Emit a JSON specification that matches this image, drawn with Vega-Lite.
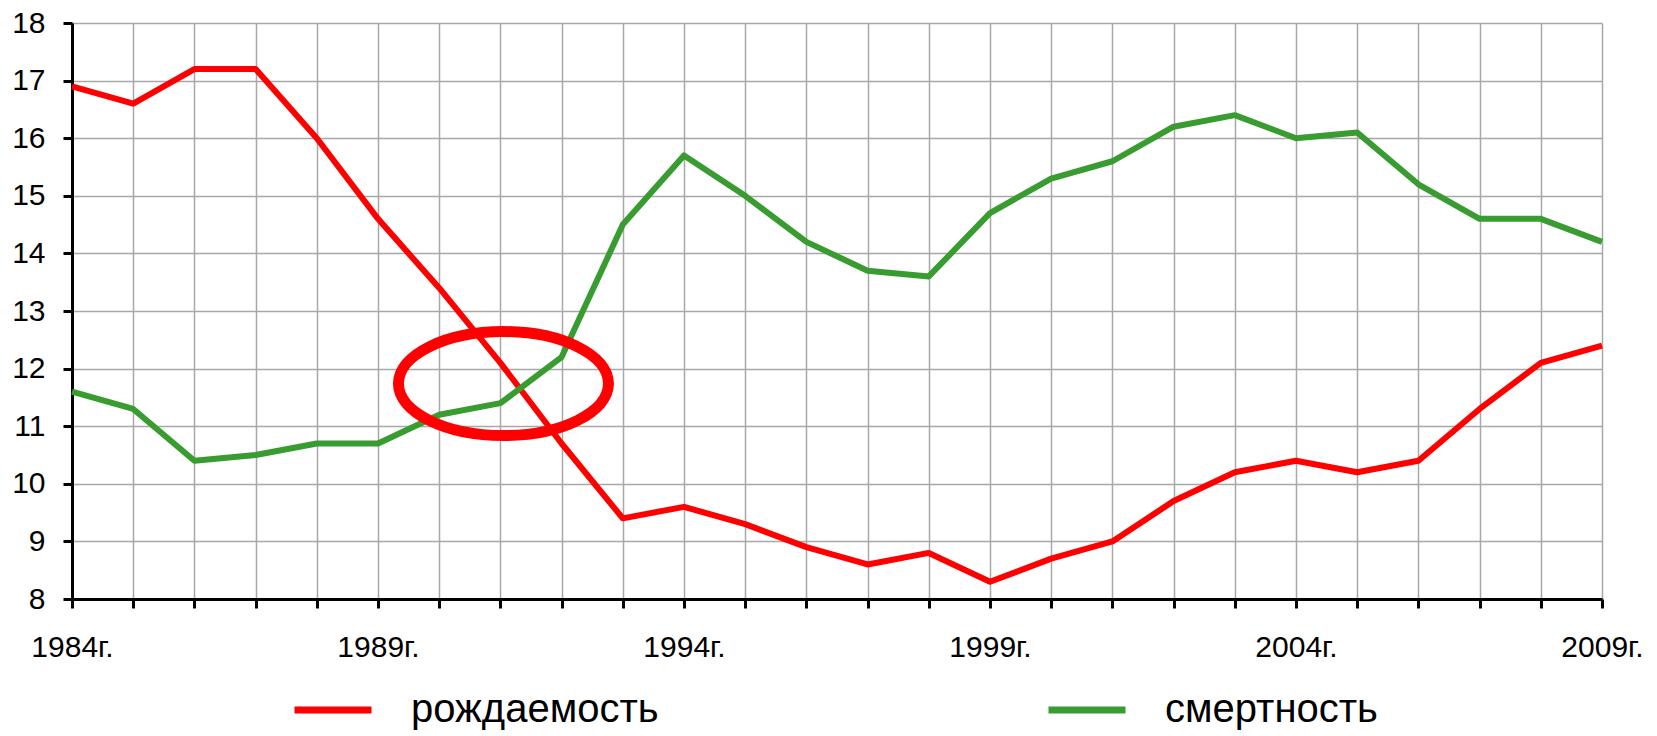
{
  "$schema": "https://vega.github.io/schema/vega-lite/v6.json",
  "width": 1530,
  "height": 576,
  "autosize": {"type": "none"},
  "padding": {"left": 72, "top": 23, "right": 55, "bottom": 137},
  "background": "white",
  "config": {
    "view": {"stroke": null},
    "axis": {
      "labelFont": "Liberation Sans",
      "labelFontSize": 30,
      "labelColor": "#000000",
      "domainColor": "#000000",
      "domainWidth": 3,
      "tickColor": "#000000",
      "tickWidth": 3,
      "tickSize": 9,
      "gridColor": "#a8a8a8",
      "gridWidth": 1.5,
      "title": null
    }
  },
  "datasets": {
    "rates": [
      {"year": 1984, "series": "рождаемость", "value": 16.9},
      {"year": 1985, "series": "рождаемость", "value": 16.6},
      {"year": 1986, "series": "рождаемость", "value": 17.2},
      {"year": 1987, "series": "рождаемость", "value": 17.2},
      {"year": 1988, "series": "рождаемость", "value": 16.0},
      {"year": 1989, "series": "рождаемость", "value": 14.6},
      {"year": 1990, "series": "рождаемость", "value": 13.4},
      {"year": 1991, "series": "рождаемость", "value": 12.1},
      {"year": 1992, "series": "рождаемость", "value": 10.7},
      {"year": 1993, "series": "рождаемость", "value": 9.4},
      {"year": 1994, "series": "рождаемость", "value": 9.6},
      {"year": 1995, "series": "рождаемость", "value": 9.3},
      {"year": 1996, "series": "рождаемость", "value": 8.9},
      {"year": 1997, "series": "рождаемость", "value": 8.6},
      {"year": 1998, "series": "рождаемость", "value": 8.8},
      {"year": 1999, "series": "рождаемость", "value": 8.3},
      {"year": 2000, "series": "рождаемость", "value": 8.7},
      {"year": 2001, "series": "рождаемость", "value": 9.0},
      {"year": 2002, "series": "рождаемость", "value": 9.7},
      {"year": 2003, "series": "рождаемость", "value": 10.2},
      {"year": 2004, "series": "рождаемость", "value": 10.4},
      {"year": 2005, "series": "рождаемость", "value": 10.2},
      {"year": 2006, "series": "рождаемость", "value": 10.4},
      {"year": 2007, "series": "рождаемость", "value": 11.3},
      {"year": 2008, "series": "рождаемость", "value": 12.1},
      {"year": 2009, "series": "рождаемость", "value": 12.4},
      {"year": 1984, "series": "смертность", "value": 11.6},
      {"year": 1985, "series": "смертность", "value": 11.3},
      {"year": 1986, "series": "смертность", "value": 10.4},
      {"year": 1987, "series": "смертность", "value": 10.5},
      {"year": 1988, "series": "смертность", "value": 10.7},
      {"year": 1989, "series": "смертность", "value": 10.7},
      {"year": 1990, "series": "смертность", "value": 11.2},
      {"year": 1991, "series": "смертность", "value": 11.4},
      {"year": 1992, "series": "смертность", "value": 12.2},
      {"year": 1993, "series": "смертность", "value": 14.5},
      {"year": 1994, "series": "смертность", "value": 15.7},
      {"year": 1995, "series": "смертность", "value": 15.0},
      {"year": 1996, "series": "смертность", "value": 14.2},
      {"year": 1997, "series": "смертность", "value": 13.7},
      {"year": 1998, "series": "смертность", "value": 13.6},
      {"year": 1999, "series": "смертность", "value": 14.7},
      {"year": 2000, "series": "смертность", "value": 15.3},
      {"year": 2001, "series": "смертность", "value": 15.6},
      {"year": 2002, "series": "смертность", "value": 16.2},
      {"year": 2003, "series": "смертность", "value": 16.4},
      {"year": 2004, "series": "смертность", "value": 16.0},
      {"year": 2005, "series": "смертность", "value": 16.1},
      {"year": 2006, "series": "смертность", "value": 15.2},
      {"year": 2007, "series": "смертность", "value": 14.6},
      {"year": 2008, "series": "смертность", "value": 14.6},
      {"year": 2009, "series": "смертность", "value": 14.2}
    ],
    "highlight": [
      {"year": 1991.05, "value": 11.74}
    ]
  },
  "layer": [
    {
      "data": {"name": "rates"},
      "mark": {"type": "line", "strokeWidth": 6, "strokeJoin": "round", "strokeCap": "butt"},
      "encoding": {
        "x": {
          "field": "year",
          "type": "quantitative",
          "scale": {"domain": [1984, 2009], "nice": false, "zero": false},
          "axis": {
            "values": [1984, 1985, 1986, 1987, 1988, 1989, 1990, 1991, 1992, 1993, 1994, 1995, 1996, 1997, 1998, 1999, 2000, 2001, 2002, 2003, 2004, 2005, 2006, 2007, 2008, 2009],
            "labelExpr": "datum.value % 5 == 4 ? datum.value + 'г.' : ''",
            "labelPadding": 24,
            "labelFlush": false,
            "labelOverlap": false,
            "labelBound": false,
            "grid": true
          }
        },
        "y": {
          "field": "value",
          "type": "quantitative",
          "scale": {"domain": [8, 18], "nice": false, "zero": false},
          "axis": {
            "values": [8, 9, 10, 11, 12, 13, 14, 15, 16, 17, 18],
            "format": "d",
            "labelPadding": 18,
            "grid": true
          }
        },
        "color": {
          "field": "series",
          "type": "nominal",
          "scale": {"domain": ["рождаемость", "смертность"], "range": ["#ff0000", "#389c30"]},
          "legend": {
            "orient": "none",
            "direction": "horizontal",
            "legendX": 219,
            "legendY": 645,
            "padding": 0,
            "title": null,
            "symbolType": "stroke",
            "symbolSize": 5929,
            "symbolStrokeWidth": 7,
            "labelFont": "Liberation Sans",
            "labelFontSize": 40,
            "labelColor": "#000000",
            "labelOffset": 36,
            "labelLimit": 400,
            "columnPadding": 375
          }
        }
      }
    },
    {
      "data": {"name": "highlight"},
      "mark": {
        "type": "point",
        "shape": "M -1 0 A 1 0.4952 0 1 0 1 0 A 1 0.4952 0 1 0 -1 0 Z",
        "size": 44100,
        "filled": false,
        "stroke": "#ff0000",
        "strokeWidth": 11,
        "opacity": 1
      },
      "encoding": {
        "x": {"field": "year", "type": "quantitative"},
        "y": {"field": "value", "type": "quantitative"}
      }
    }
  ]
}
